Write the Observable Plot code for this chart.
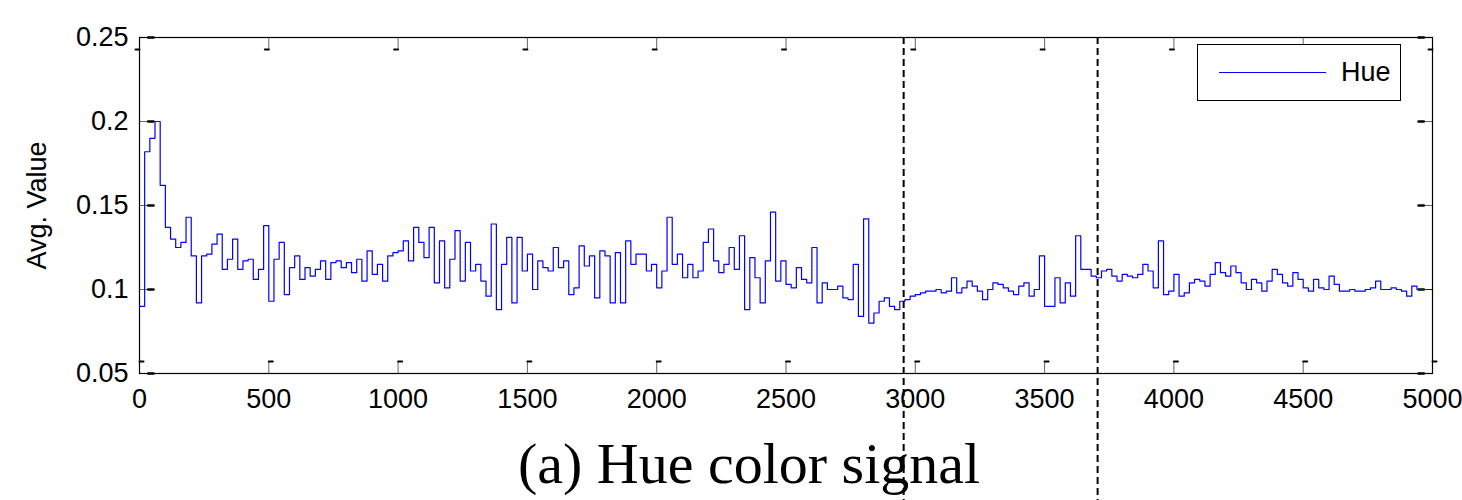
<!DOCTYPE html>
<html>
<head>
<meta charset="utf-8">
<script src="https://cdn.jsdelivr.net/npm/d3@7"></script>
<script src="https://cdn.jsdelivr.net/npm/@observablehq/plot@0.6"></script>
<style>
  html, body { margin: 0; padding: 0; background: #fff; }
  #wrap { position: relative; width: 1462px; height: 500px; overflow: hidden; }
  #legend { position: absolute; left: 1197px; top: 44px; width: 204px; height: 57px;
            border: 1px solid #000; background: #fff; box-sizing: border-box; }
  #legend .sw { position: absolute; left: 21px; top: 27px; width: 107px; height: 0;
                border-top: 1px solid #0000ff; }
  #legend .lb { position: absolute; left: 143px; top: 10px; font: 27px "Liberation Sans", Arial, sans-serif;
                color: #000; line-height: 34px; }
</style>
</head>
<body>
<div id="wrap"></div>
<script>
// ---- data ----
const sampleStep = 20; // x spacing of the samples below
const hue = [
  0.09,0.182,0.19,0.2,0.162,0.137,0.13,0.125,0.128,0.143,
  0.12,0.092,0.12,0.121,0.127,0.133,0.112,0.118,0.13,0.112,
  0.117,0.118,0.106,0.112,0.138,0.093,0.118,0.128,0.097,0.113,
  0.12,0.106,0.113,0.108,0.112,0.117,0.106,0.116,0.117,0.113,
  0.116,0.11,0.118,0.105,0.123,0.109,0.115,0.105,0.12,0.122,
  0.123,0.129,0.117,0.137,0.128,0.119,0.137,0.104,0.129,0.101,
  0.118,0.135,0.105,0.128,0.111,0.115,0.105,0.096,0.139,0.088,
  0.115,0.131,0.092,0.131,0.111,0.121,0.1,0.117,0.113,0.111,
  0.125,0.113,0.117,0.097,0.101,0.126,0.114,0.12,0.095,0.123,
  0.12,0.092,0.122,0.092,0.129,0.115,0.121,0.121,0.111,0.115,
  0.101,0.111,0.143,0.115,0.121,0.107,0.115,0.107,0.111,0.128,
  0.136,0.117,0.11,0.115,0.125,0.112,0.132,0.088,0.119,0.107,
  0.092,0.117,0.146,0.105,0.117,0.103,0.101,0.113,0.106,0.104,
  0.125,0.092,0.104,0.1,0.1,0.102,0.095,0.094,0.115,0.084,
  0.142,0.08,0.086,0.093,0.095,0.09,0.088,0.093,0.094,0.096,
  0.097,0.098,0.099,0.099,0.1,0.098,0.099,0.107,0.098,0.101,
  0.105,0.102,0.099,0.094,0.1,0.104,0.103,0.101,0.099,0.097,
  0.102,0.104,0.096,0.1,0.12,0.09,0.09,0.107,0.092,0.104,
  0.096,0.132,0.112,0.112,0.108,0.107,0.111,0.112,0.108,0.105,
  0.109,0.108,0.107,0.109,0.115,0.111,0.101,0.129,0.097,0.099,
  0.109,0.096,0.098,0.104,0.106,0.105,0.102,0.109,0.116,0.11,
  0.108,0.114,0.11,0.104,0.1,0.106,0.104,0.099,0.105,0.112,
  0.109,0.104,0.102,0.11,0.106,0.101,0.099,0.106,0.101,0.1,
  0.108,0.103,0.099,0.099,0.1,0.099,0.099,0.1,0.101,0.105,
  0.1,0.1,0.101,0.1,0.099,0.096,0.102,0.1,0.1,0.1,
  0.099
];
const markers = [2955, 3705];           // dashed vertical lines
const xTicks = [0,500,1000,1500,2000,2500,3000,3500,4000,4500,5000];
const yTicks = [0.05,0.1,0.15,0.2,0.25];
const xDomain = [0, 5000];
const yDomain = [0.05, 0.25];
const seriesName = "Hue";
const yLabel = "Avg. Value";
const title = "(a) Hue color signal";

const rows = hue.map((v, i) => ({x: i * sampleStep, v}));

const tickLine = {draw(ctx, l) { ctx.moveTo(0, 0); ctx.lineTo(0, -l); }};
const tickTip = {draw(ctx, l) { ctx.moveTo(0, -l * 0.62); ctx.lineTo(0, -l); }};
const tickHook = {draw(ctx, l) { ctx.moveTo(0, -l); ctx.lineTo(4, -l); }};

const chart = Plot.plot({
  width: 1462,
  height: 500,
  marginLeft: 139,
  marginRight: 30,
  marginTop: 37,
  marginBottom: 127,
  style: {fontFamily: "'Liberation Sans', Arial, sans-serif", fontSize: "27px", color: "#000", background: "#fff", overflow: "visible"},
  x: {domain: xDomain, ticks: xTicks, label: null},
  y: {domain: yDomain, ticks: yTicks, label: null},
  marks: [
    // inside ticks (MATLAB style) – gray stems with dark tips
    Plot.vector(xTicks, {x: d => d, frameAnchor: "bottom", anchor: "start", length: 12, rotate: 0, shape: tickLine, stroke: "#666", strokeWidth: 1}),
    Plot.vector(xTicks, {x: d => d, frameAnchor: "bottom", anchor: "start", length: 12, rotate: 0, shape: tickHook, stroke: "#000", strokeWidth: 2}),
    Plot.vector(xTicks, {x: d => d, frameAnchor: "top", anchor: "start", length: 12, rotate: 180, shape: tickLine, stroke: "#666", strokeWidth: 1}),
    Plot.vector(xTicks, {x: d => d, frameAnchor: "top", anchor: "start", length: 12, rotate: 180, shape: tickHook, stroke: "#000", strokeWidth: 2}),
    Plot.vector(yTicks, {y: d => d, frameAnchor: "left", anchor: "start", length: 14, rotate: 90, shape: tickLine, stroke: "#666", strokeWidth: 1}),
    Plot.vector(yTicks, {y: d => d, frameAnchor: "left", anchor: "start", length: 14, rotate: 90, shape: tickTip, stroke: "#000", strokeWidth: 2.5}),
    Plot.vector(yTicks, {y: d => d, frameAnchor: "right", anchor: "start", length: 14, rotate: -90, shape: tickLine, stroke: "#666", strokeWidth: 1}),
    Plot.vector(yTicks, {y: d => d, frameAnchor: "right", anchor: "start", length: 14, rotate: -90, shape: tickTip, stroke: "#000", strokeWidth: 2.5}),
    Plot.lineY(rows, {x: "x", y: "v", curve: "step-after", stroke: "#0000ff", strokeWidth: 1.2}),
    Plot.ruleX(markers, {x: d => d, stroke: "#000", strokeWidth: 2, strokeDasharray: "7,4", insetBottom: -127}),
    Plot.frame({stroke: "#000", strokeWidth: 1.2}),
    Plot.axisX(xTicks, {anchor: "bottom", tickSize: 0, tickPadding: 15, tickFormat: d => String(d), label: null}),
    Plot.axisY(yTicks, {anchor: "left", tickSize: 0, tickPadding: 11, tickFormat: d => String(d), label: null}),
    Plot.text([yLabel], {frameAnchor: "left", textAnchor: "middle", dx: -102, rotate: -90, fontSize: 27}),
    Plot.text([title], {frameAnchor: "bottom", textAnchor: "middle", dx: -37, dy: 109, fontSize: 58, fontFamily: "'Liberation Serif', 'Times New Roman', serif"})
  ]
});
const wrap = document.getElementById("wrap");
wrap.appendChild(chart);
const lg = document.createElement("div");
lg.id = "legend";
lg.innerHTML = '<div class="sw"></div><div class="lb"></div>';
lg.querySelector(".lb").textContent = seriesName;
wrap.appendChild(lg);
</script>
</body>
</html>
